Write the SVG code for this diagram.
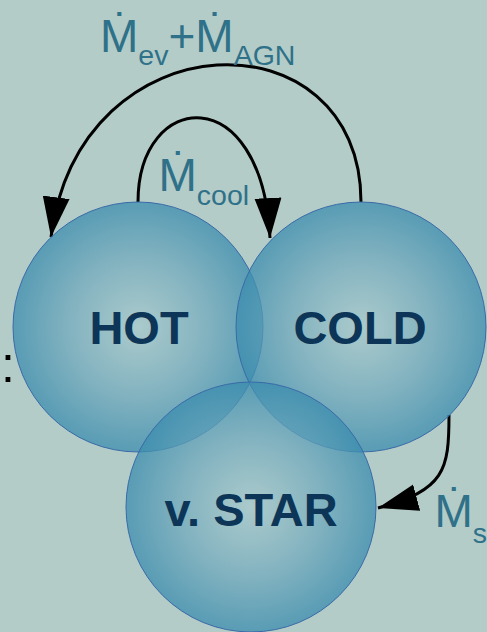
<svg xmlns="http://www.w3.org/2000/svg" width="487" height="632" viewBox="0 0 487 632">
<style>
.bg{fill:#b4ccc8}
.node circle{fill:url(#g);fill-opacity:0.75;stroke:#3a6aa8;stroke-width:1}
.nt{font-family:"Liberation Sans",Arial,sans-serif;font-weight:bold;font-size:47px;fill:#0c3557;text-anchor:middle}
.lbl{font-family:"Liberation Sans","DejaVu Sans",Arial,sans-serif;font-size:46px;fill:#2f7189}
.sub{font-size:28.5px}
.conn path{fill:none;stroke:#000;stroke-width:3;marker-end:url(#ah)}
</style>
<defs>
<radialGradient id="g" cx="0.5" cy="0.5" r="0.5">
<stop offset="0" stop-color="#a8cacd"/>
<stop offset="0.55" stop-color="#72aabd"/>
<stop offset="1" stop-color="#3a8cae"/>
</radialGradient>
<marker id="ah" markerUnits="userSpaceOnUse" markerWidth="42" markerHeight="28" refX="40" refY="13.5" orient="auto">
<path d="M0,0 L40,13.5 L0,27 z" fill="#000"/>
</marker>
</defs>
<rect class="bg" x="0" y="0" width="487" height="632"/>
<text class="lbl" x="1" y="382" style="fill:#000;font-size:50px">:</text>
<g class="conn">
<path d="M361,202 C361,12 80,15 51,237"/>
<path d="M138,202 C138,90 262,78 270,238"/>
<path d="M449,415 C449,470 445,490 378,508"/>
</g>
<g id="hot" class="node">
<circle cx="138" cy="327" r="125"/>
<text class="nt" x="139" y="344">HOT</text>
</g>
<g id="cold" class="node">
<circle cx="361" cy="327" r="125"/>
<text class="nt" x="360" y="344">COLD</text>
</g>
<g id="star" class="node">
<circle cx="251" cy="507" r="125"/>
<text class="nt" x="251" y="526">v. STAR</text>
</g>
<text class="lbl" x="100" y="52">Ṁ<tspan class="sub" dy="13">ev</tspan><tspan dy="-13">+Ṁ</tspan><tspan class="sub" dy="13">AGN</tspan></text>
<text class="lbl" x="158.5" y="191">Ṁ<tspan class="sub" dy="14">cool</tspan></text>
<text class="lbl" x="434.5" y="527">Ṁ<tspan class="sub" dy="16">s</tspan></text>
</svg>
